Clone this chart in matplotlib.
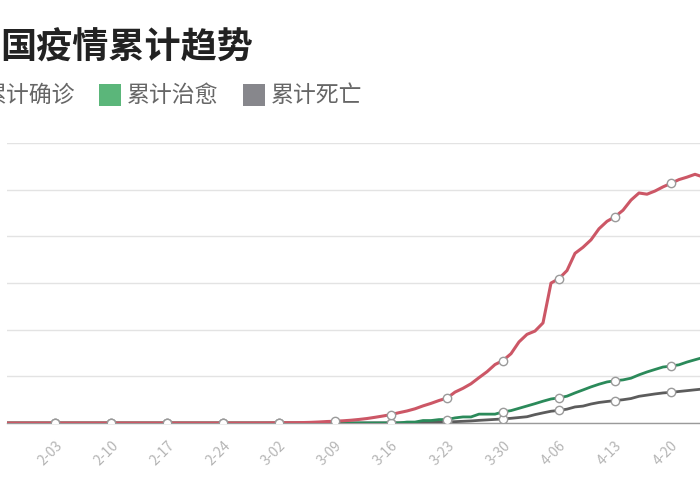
import numpy as np
import pandas as pd
import matplotlib
matplotlib.use('Agg')
import matplotlib.pyplot as plt
from matplotlib.patches import Rectangle

plt.rcParams['font.family'] = ['Noto Sans CJK SC', 'DejaVu Sans']

# 日期 1-28 ~ 4-25
dates = pd.date_range('2020-01-28', '2020-04-25')

# 累计确诊
confirmed_jan = [3, 4, 4, 5]
confirmed_feb = [6, 6, 6, 6, 6, 6, 6, 6,
                 11, 11, 11, 11, 11, 11, 11,
                 12, 12, 12, 12, 12, 12, 12, 12, 12, 12,
                 14, 18, 38, 57]
confirmed_mar = [100, 130, 191, 212, 285, 423, 653, 949, 1126,
                 1412, 1784, 2281, 2876, 3661, 4499, 5423,
                 6633, 7730, 9134, 10995, 12612, 14459, 16018,
                 19856, 22304, 25233, 29155, 32964, 37575, 40174,
                 44550]
confirmed_apr = [52128, 56989, 59105, 64338, 89953, 92839, 98010,
                 109069, 112950, 117749, 124869, 129654, 132591, 136779,
                 143303, 147863, 147091, 149130, 151793, 154097, 156480,
                 158050, 159877, 158183, 159460]

# 累计治愈
recovered_jan = [0, 0, 0, 0]
recovered_feb = [0] * 15 + [2] * 5 + [4] * 9
recovered_mar = [12] * 17 + [602, 602, 1587, 1587, 2200, 2200, 3281, 3900,
                             3900, 5700, 5700, 5700, 7132, 7964]
recovered_apr = [9444, 10934, 12428, 14008, 15438, 16183, 17250,
                 19337, 21254, 23206, 24932, 26391, 27186, 27718,
                 28805, 30955, 32812, 34420, 35983, 36578, 37409,
                 39181, 40657, 42088, 43493]

# 累计死亡
deaths_jan = [0, 0, 0, 0]
deaths_feb = [0] * 15 + [1] * 11 + [2] * 3
deaths_mar = [2, 2, 2, 4, 4, 7, 9, 16, 19, 25, 33, 48, 61, 79, 91, 127,
              148, 175, 264, 372, 450, 562, 674, 860, 1100, 1331, 1696,
              1995, 2314, 2606, 3024]
deaths_apr = [3523, 4032, 5387, 6507, 7560, 8078, 8911, 10328, 10869,
              12210, 13197, 13832, 14393, 14967, 15729, 17167, 17920,
              18681, 19323, 19718, 20265, 20796, 21340, 21856, 22245]

confirmed = confirmed_jan + confirmed_feb + confirmed_mar + confirmed_apr
recovered = recovered_jan + recovered_feb + recovered_mar + recovered_apr
deaths = deaths_jan + deaths_feb + deaths_mar + deaths_apr

x = np.arange(len(dates))
week_idx = list(range(6, len(dates), 7))
tick_labels = [f"{d.month}-{d:%d}" for d in dates[week_idx]]

W, H = 700, 500
fig = plt.figure(figsize=(7, 5), dpi=100)
fig.patch.set_facecolor('white')

# 图表区域超出画面 (原图被裁切)
ax = fig.add_axes([7 / W, (H - 423) / H, 704 / W, 280 / H])
ax.set_xlim(0, len(dates) - 1)
ax.set_ylim(0, 180000)
ax.set_yticks(np.arange(0, 180001, 30000))
ax.yaxis.grid(True, color='#e3e3e3', linewidth=1)
ax.set_axisbelow(True)
ax.tick_params(axis='y', left=False, labelleft=False)
for s in ['top', 'right', 'left']:
    ax.spines[s].set_visible(False)
ax.spines['bottom'].set_color('#9a9a9a')
ax.spines['bottom'].set_linewidth(1)

ax.set_xticks(week_idx)
ax.set_xticklabels(tick_labels, rotation=45, ha='right', rotation_mode='anchor',
                   color='#b5b5b5', fontsize=10)
ax.tick_params(axis='x', length=0, pad=11)

mk = dict(marker='o', markevery=week_idx, markersize=6, markerfacecolor='white',
          markeredgecolor='#9a9a9a', markeredgewidth=1)
ax.plot(x, deaths, color='#5c5c5c', linewidth=2, **mk, zorder=3)
ax.plot(x, recovered, color='#2b8a5a', linewidth=2, **mk, zorder=4)
ax.plot(x, confirmed, color='#cc5766', linewidth=2.2, **mk, zorder=5)

# 标题
fig.text(0, 1 - 48 / H, '国疫情累计趋势', fontsize=26, fontweight='bold',
         color='#222222', ha='left', va='center')

# 图例
leg_y = 1 - 95 / H
leg_items = [(-44, '#d9707c', '累计确诊'), (99, '#5bb67a', '累计治愈'),
             (243, '#87878c', '累计死亡')]
for px, col, lab in leg_items:
    fig.patches.append(Rectangle((px / W, 1 - 106 / H), 22 / W, 22 / H,
                                 transform=fig.transFigure, facecolor=col,
                                 edgecolor='none'))
    fig.text((px + 28) / W, leg_y, lab, fontsize=16.5, color='#666666',
             ha='left', va='center')

fig.savefig('out.png', dpi=100)
